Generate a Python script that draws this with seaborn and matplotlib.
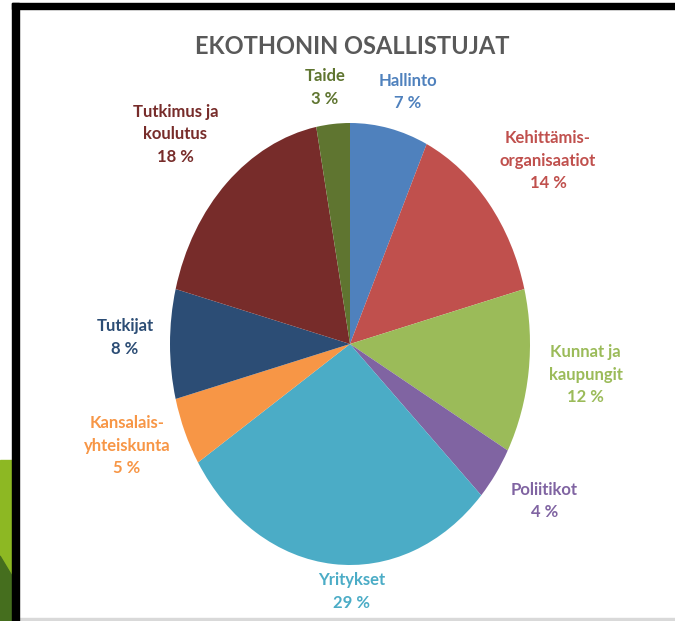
import matplotlib
matplotlib.use("Agg")
import matplotlib.pyplot as plt
import seaborn as sns
from matplotlib.patches import Rectangle, Polygon

# Data
labels = ["Hallinto", "Kehittämis-\norganisaatiot", "Kunnat ja\nkaupungit", "Poliitikot",
          "Yritykset", "Kansalais-\nyhteiskunta", "Tutkijat", "Tutkimus ja\nkoulutus", "Taide"]
values = [7, 14, 12, 4, 29, 5, 8, 18, 3]
colors = ["#4F81BD", "#C0504D", "#9BBB59", "#8064A2", "#4BACC6",
          "#F79646", "#2C4D75", "#772C2A", "#5F7530"]

# label centres (axes data units, pie radius = 1)
label_pos = [(0.32, 1.14), (1.10, 0.83), (1.31, -0.14), (1.08, -0.71), (0.01, -1.12),
             (-1.24, -0.46), (-1.25, 0.03), (-0.97, 0.95), (-0.14, 1.16)]

sns.set_theme(style="white")
plt.rcParams['font.family'] = ['Lato', 'DejaVu Sans']

fig = plt.figure(figsize=(6.75, 6.21), dpi=100)
W, H = 675, 621

# slide decoration: frame and green arrow at left
fig.patches.append(Rectangle((12 / W, 0), 7 / W, 618 / H, transform=fig.transFigure,
                             color="black", zorder=5))
fig.patches.append(Rectangle((12 / W, 612 / H), 663 / W, 6 / H, transform=fig.transFigure,
                             color="black", zorder=5))
fig.patches.append(Polygon([(0, 161 / H), (12 / W, 161 / H), (12 / W, 0), (0, 0)],
                           closed=True, transform=fig.transFigure, color="#8DB823", zorder=4))
fig.patches.append(Polygon([(0, 65 / H), (12 / W, 45 / H), (12 / W, 0), (0, 0)],
                           closed=True, transform=fig.transFigure, color="#456E1E", zorder=4))
fig.patches.append(Rectangle((19 / W, 1 / H), 656 / W, 2 / H, transform=fig.transFigure,
                             color="#D9D9D9", zorder=3))

ax = fig.add_axes([170 / W, 56 / H, 360 / W, 442 / H])
ax.pie(values, colors=colors, startangle=90, counterclock=False, radius=1,
       wedgeprops=dict(linewidth=0))
ax.set_aspect('auto')
ax.set_xlim(-1, 1)
ax.set_ylim(-1, 1)
ax.axis('off')

for lab, v, c, (x, y) in zip(labels, values, colors, label_pos):
    ax.text(x, y, f"{lab}\n{v} %", ha="center", va="center", color=c,
            fontsize=12, fontweight="bold", linespacing=1.5)

fig.text(352 / W, 1 - 47 / H, "EKOTHONIN OSALLISTUJAT", ha="center", va="center",
         fontsize=17, fontweight="bold", color="#595959")

fig.savefig("out.png", dpi=100)
